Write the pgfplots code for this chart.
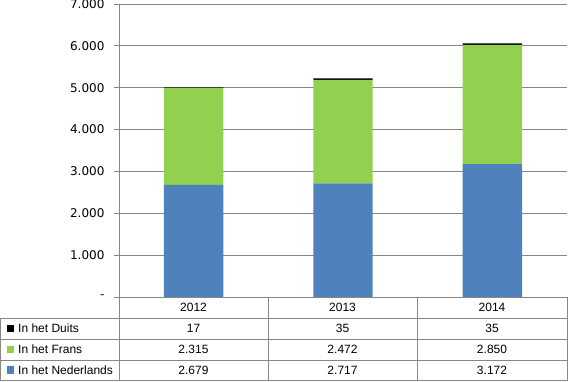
\documentclass[border=0pt]{standalone}
\usepackage{fontspec}
\setmainfont{Liberation Sans}
\newfontfamily\vfont{DejaVu Sans}
\usepackage{pgfplots}
\pgfplotsset{compat=1.18}
\definecolor{nlblue}{HTML}{4F81BD}
\definecolor{frgreen}{HTML}{92D050}
\definecolor{gridgray}{HTML}{878787}
\begin{document}
\begin{tikzpicture}[x=1pt,y=1pt]
\useasboundingbox (0,0) rectangle (569,381);
\begin{axis}[
  at={(119pt,84pt)}, anchor=south west,
  scale only axis, width=448pt, height=293pt,
  xmin=-0.5, xmax=2.5, ymin=0, ymax=7000,
  ybar stacked, bar width=59.4pt,
  axis x line=bottom, axis y line=left,
  axis line style={gridgray, line width=1pt, -},
  xtick=\empty,
  ytick={0,1000,...,7000},
  yticklabels={-,1.000,2.000,3.000,4.000,5.000,6.000,7.000},
  yticklabel style={font=\vfont\fontsize{12}{14}\selectfont, xshift=-6pt, text=black},
  tick align=outside, major tick length=5pt,
  tick style={gridgray, line width=1pt},
  ymajorgrids, grid style={gridgray, line width=1pt},
  clip=false,
]
\addplot[fill=nlblue, draw=none] coordinates {(0,2679) (1,2717) (2,3172)};
\addplot[fill=frgreen, draw=none] coordinates {(0,2315) (1,2472) (2,2850)};
\addplot[fill=black, draw=none] coordinates {(0,17) (1,35) (2,35)};
\end{axis}
% data table
\begin{scope}[gridgray, line width=1pt]
\draw (119,84) -- (567.5,84);
\foreach \yy in {63,42,21,0.5} \draw (0,\yy) -- (567.5,\yy);
\draw (0.5,63) -- (0.5,0);
\foreach \xx in {119,268,417,567} \draw (\xx,84) -- (\xx,0);
\end{scope}
\begin{scope}[font=\fontsize{12}{14}\selectfont]
\node at (193.5,73.5) {2012};
\node at (342.5,73.5) {2013};
\node at (492,73.5) {2014};
\node at (193.5,52.5) {17};
\node at (342.5,52.5) {35};
\node at (492,52.5) {35};
\node at (193.5,31.5) {2.315};
\node at (342.5,31.5) {2.472};
\node at (492,31.5) {2.850};
\node at (193.5,11) {2.679};
\node at (342.5,11) {2.717};
\node at (492,11) {3.172};
\fill[black] (6.5,48.8) rectangle (14,56.3);
\node[anchor=west, inner sep=0] at (18,52.5) {In het Duits};
\fill[frgreen] (6.5,27.8) rectangle (14,35.3);
\node[anchor=west, inner sep=0] at (18,31.5) {In het Frans};
\fill[nlblue] (6.5,7.3) rectangle (14,14.8);
\node[anchor=west, inner sep=0] at (18,11) {In het Nederlands};
\end{scope}
\end{tikzpicture}
\end{document}
